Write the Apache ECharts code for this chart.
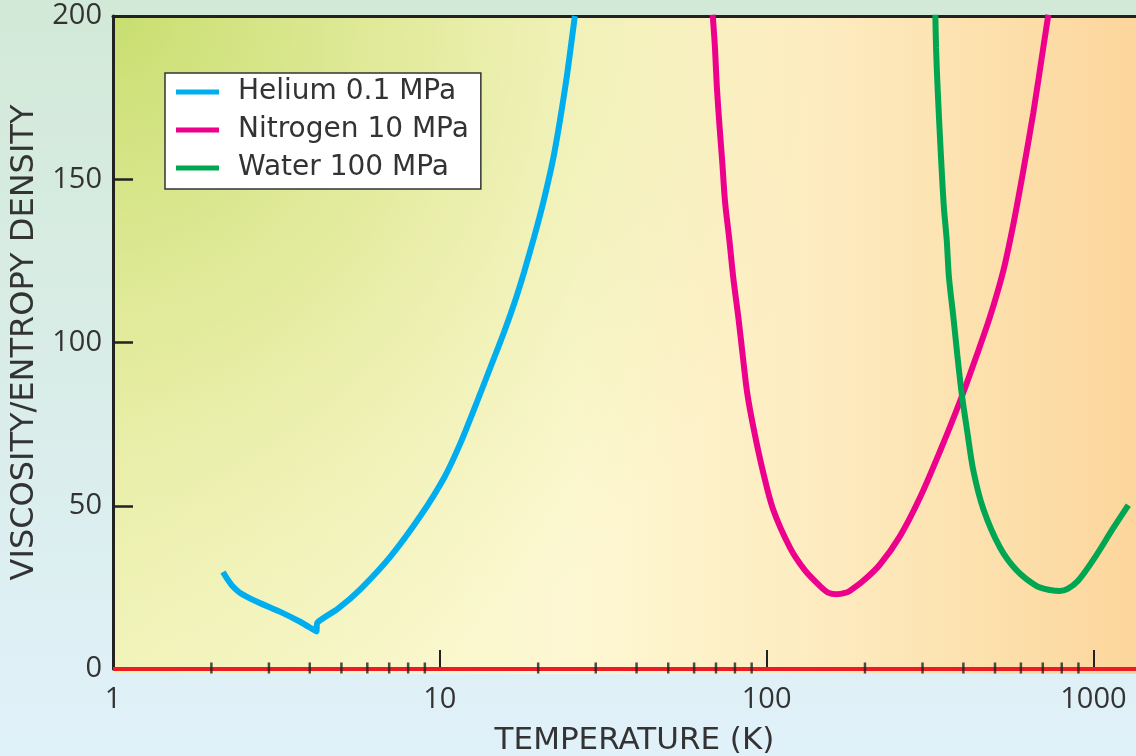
<!DOCTYPE html>
<html>
<head>
<meta charset="utf-8">
<script src="https://cdn.jsdelivr.net/npm/echarts@6/dist/echarts.min.js"></script>
<style>
html,body{margin:0;padding:0;}
#chart{width:1136px;height:756px;}
</style>
</head>
<body>
<div id="chart"></div>
<script>
// ---- data (temperature K, viscosity/entropy density) ----
const seriesNames = ['Helium 0.1 MPa', 'Nitrogen 10 MPa', 'Water 100 MPa'];
const heliumData = [
  [2.17, 29.7], [2.23, 27.8], [2.32, 25.4], [2.45, 23.3], [2.77, 20.5], [3.25, 17.5], [3.75, 14.4],
  [4.08, 12.2], [4.19, 11.5], [4.22, 14.2], [4.87, 18.4], [5.72, 24.5], [7.07, 34.5],
  [8.74, 47], [10.3, 58.5], [11.6, 69.5], [13.1, 82.7], [14.3, 92.5], [15.7, 103],
  [16.9, 112], [18.1, 121.5], [19.4, 132], [20.8, 143.5], [22.4, 158], [24.35, 180], [25.9, 200]
];
const nitrogenData = [
  [68.4, 200.4], [69.5, 190.3], [70.4, 178.6], [71.7, 166.8], [73.2, 155], [74.6, 143.2],
  [76.9, 131.5], [79.1, 119.7], [81.9, 107.9], [84.5, 96.1], [87.3, 84.3], [91.7, 72.6],
  [97.3, 60.8], [104.6, 49], [117.9, 37.2], [131.1, 30.2], [145.7, 25.4], [154.2, 23.4],
  [163.9, 22.9], [173.8, 23.3], [180.0, 24.0], [197.6, 27.0], [222.3, 32.0], [256, 40.7],
  [294.7, 52.5], [339.3, 66.7], [390.7, 82], [439.5, 96.1], [482.6, 107.9], [530.1, 122],
  [568.8, 136.2], [610.3, 152.7], [654.9, 170.4], [702.5, 190.3], [727.8, 200.4]
];
const waterData = [
  [328.3, 200.4], [330.0, 190.3], [333.0, 179.8], [337.7, 166.8], [343.4, 152.7], [349.0, 140.9],
  [355.7, 131.5], [361.5, 119.8], [372.7, 107.9], [383.3, 96.2], [395.4, 84.3], [411.3, 72.6],
  [429.1, 60.8], [460.4, 49], [517.9, 37.2], [582.5, 30.2], [670.8, 25.4], [736.6, 24.2],
  [790.4, 23.9], [836.3, 24.6], [897.5, 27.0], [999, 33.4], [1151, 43.2], [1279, 50.2]
];
const minorTickValues = [2,3,4,5,6,7,8,9,20,30,40,50,60,70,80,90,200,300,400,500,600,700,800,900];
const xMin = 1, xMax = 1350;
const yMin = 0, yMax = 200, yInterval = 50;

const TICKFONT = '"Open Sans", "Liberation Sans", sans-serif';
const FONT = '"DejaVu Sans", sans-serif';
const TEXT = '#333';
const chart = echarts.init(document.getElementById('chart'));
chart.setOption({
  animation: false,
  graphic: [
    { type: 'rect', z: -30, silent: true, shape: { x: 0, y: 0, width: 1136, height: 756 },
      style: { fill: { type: 'linear', x: 0, y: 0, x2: 0, y2: 1,
        colorStops: [{ offset: 0, color: '#d3e9d7' }, { offset: 1, color: '#e0f1fa' }] } } },
    { type: 'rect', z: -20, silent: true, shape: { x: 113, y: 16, width: 1023, height: 658 },
      style: { fill: { type: 'linear', x: 0, y: 0, x2: 1, y2: 0,
        colorStops: [{ offset: 0, color: '#f2f4bd' }, { offset: 0.45, color: '#fdf8d3' },
                     { offset: 0.7, color: '#fdebbf' }, { offset: 1, color: '#fcd69c' }] } } },
    { type: 'rect', z: -19, silent: true, shape: { x: 113, y: 16, width: 1023, height: 658 },
      style: { fill: { type: 'radial', x: 0, y: 0, r: 1.1,
        colorStops: [{ offset: 0, color: 'rgba(200,222,112,1)' }, { offset: 0.5, color: 'rgba(214,228,130,0.5)' },
                     { offset: 1, color: 'rgba(232,236,160,0)' }] } } }
  ],
  grid: { left: 113, right: 0, top: 16, bottom: 87, outerBoundsMode: 'none', containLabel: false },
  legend: {
    data: seriesNames,
    orient: 'vertical', left: 165, top: 73,
    backgroundColor: '#fff', borderColor: '#333', borderWidth: 1.5,
    padding: [4, 12, 6, 11], itemGap: 8,
    icon: 'rect', itemWidth: 43, itemHeight: 5,
    textStyle: { fontFamily: FONT, fontSize: 28, color: TEXT, lineHeight: 30, padding: [0, 0, 0, 14] }
  },
  xAxis: [{
    type: 'log', logBase: 10, min: xMin, max: xMax, position: 'bottom', offset: 5,
    axisLine: { lineStyle: { color: '#222', width: 2 } },
    axisTick: { inside: true, length: 19, lineStyle: { color: '#222', width: 2 } },
    axisLabel: { fontFamily: TICKFONT, fontSize: 29, color: TEXT, margin: 11, showMaxLabel: false,
      formatter: v => String(Math.round(v)) },
    splitLine: { show: false },
    name: 'TEMPERATURE (K)', nameLocation: 'middle', nameGap: 51,
    nameTextStyle: { fontFamily: FONT, fontSize: 31, color: TEXT, padding: [0, 0, 0, 20] }
  }, {
    type: 'log', logBase: 10, min: xMin, max: xMax, position: 'top',
    axisLine: { lineStyle: { color: '#222', width: 3 } },
    axisTick: { show: false }, axisLabel: { show: false }, splitLine: { show: false }
  }],
  yAxis: {
    type: 'value', min: yMin, max: yMax, interval: yInterval,
    axisLine: { show: true, lineStyle: { color: '#222', width: 3 } },
    axisTick: { inside: true, length: 20, lineStyle: { color: '#222', width: 2.5 } },
    axisLabel: { fontFamily: TICKFONT, fontSize: 29, color: TEXT, margin: 11 },
    splitLine: { show: false },
    name: 'VISCOSITY/ENTROPY DENSITY', nameLocation: 'middle', nameGap: 72,
    nameTextStyle: { fontFamily: FONT, fontSize: 32, color: TEXT }
  },
  series: [
    { name: seriesNames[0], type: 'line', data: heliumData, symbol: 'none', smooth: 0.2,
      color: '#00aeef', lineStyle: { width: 6 }, z: 3,
      markLine: { silent: true, symbol: 'none', label: { show: false },
        lineStyle: { color: '#ed1c24', width: 4, type: 'solid' }, data: [{ yAxis: 0 }] } },
    { name: seriesNames[1], type: 'line', data: nitrogenData, symbol: 'none', smooth: 0.3,
      color: '#ec008c', lineStyle: { width: 6 }, z: 3 },
    { name: seriesNames[2], type: 'line', data: waterData, symbol: 'none', smooth: 0.3,
      color: '#00a651', lineStyle: { width: 6 }, z: 3 },
    { name: 'minorTicks', type: 'scatter', silent: true, z: 6,
      data: minorTickValues.map(v => [v, 0]),
      symbol: 'rect', symbolSize: [2.5, 11], symbolOffset: [0, -1],
      itemStyle: { color: '#222' } }
  ]
});
</script>
</body>
</html>
